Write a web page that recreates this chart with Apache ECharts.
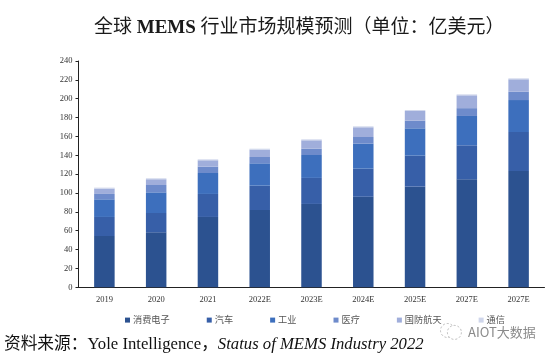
<!DOCTYPE html>
<html>
<head>
<meta charset="utf-8">
<style>
  html, body { margin: 0; padding: 0; background: #fff; }
  #chart { width: 554px; height: 355px; }
</style>
<script src="https://cdn.jsdelivr.net/npm/echarts@6/dist/echarts.min.js"></script>
</head>
<body>
<div id="chart"></div>
<script>
// 年份（原图最后两项都写作 2027E）
const years = ['2019', '2020', '2021', '2022E', '2023E', '2024E', '2025E', '2027E', '2027E'];

// 各分项，单位：亿美元
const consumer = [54.4, 58.3, 74.6, 82, 88.4, 96, 106.7, 114.5, 123.3];
const auto = [20.2, 20.5, 24.4, 25.8, 27.6, 29.8, 32.9, 36.1, 41.4];
const industrial = [18.7, 21.9, 22.2, 23.7, 24.3, 26.5, 29, 31.1, 33.9];
const medical = [5.7, 7.8, 6.7, 6.7, 6.7, 7.1, 8.1, 8.3, 8.8];
const defense = [5.7, 6.1, 6.8, 7.8, 8.9, 10.3, 10.3, 13.6, 13.2];
const telecom = [1, 1, 1, 1, 1, 1, 1, 1, 1];

const legendNames = ['消费电子', '汽车', '工业', '医疗', '国防航天', '通信'];
const seriesValues = [consumer, auto, industrial, medical, defense, telecom];
const colors = ['#2c5290', '#375fa8', '#3d6fbd', '#6e8bcb', '#a0aedb', '#cfd6eb'];

const yTicks = { min: 0, max: 240, interval: 20 };

const serif = '"Liberation Serif", "Noto Sans CJK SC", serif';
const cjk = '"Liberation Serif", "Noto Sans CJK SC", sans-serif';

const chart = echarts.init(document.getElementById('chart'), null, { renderer: 'canvas' });

chart.setOption({
  animation: false,
  backgroundColor: '#fff',
  color: colors,
  title: [
    {
      text: '全球 {b|MEMS} 行业市场规模预测（单位：亿美元）',
      left: 94,
      top: 19,
      padding: 0,
      textStyle: {
        fontFamily: cjk,
        fontSize: 19,
        fontWeight: 'normal',
        color: '#1a1a1a',
        rich: {
          b: { fontFamily: serif, fontSize: 19, fontWeight: 'bold', color: '#1a1a1a' }
        }
      }
    },
    {
      text: '资料来源：Yole Intelligence，{i|Status of MEMS Industry 2022}',
      left: 4,
      top: 336,
      padding: 0,
      textStyle: {
        fontFamily: cjk,
        fontSize: 16.7,
        fontWeight: 'normal',
        color: '#111',
        rich: {
          i: { fontFamily: serif, fontSize: 16.7, fontStyle: 'italic', color: '#111' }
        }
      }
    },
    {
      text: 'AIOT大数据',
      left: 468,
      top: 326,
      padding: 0,
      textStyle: {
        fontFamily: '"Noto Sans CJK SC", sans-serif',
        fontSize: 13,
        fontWeight: 'normal',
        color: '#8a8a8a'
      }
    }
  ],
  legend: {
    data: legendNames,
    left: 125,
    top: 315.5,
    icon: 'rect',
    itemWidth: 5,
    itemHeight: 5,
    itemGap: 37,
    padding: 0,
    textStyle: {
      fontFamily: cjk,
      fontSize: 9.2,
      color: '#555',
      padding: [0, 0, 0, -2]
    }
  },
  grid: { left: 78.5, right: 9.5, top: 61, bottom: 67.7 },
  xAxis: {
    type: 'category',
    data: years,
    axisLine: { lineStyle: { color: '#222', width: 1 } },
    axisTick: { show: false },
    axisLabel: { fontFamily: serif, fontSize: 8.5, color: '#333', margin: 8 }
  },
  yAxis: {
    type: 'value',
    min: yTicks.min,
    max: yTicks.max,
    interval: yTicks.interval,
    axisLine: { show: true, lineStyle: { color: '#222', width: 1 } },
    axisTick: { show: true, length: 3, lineStyle: { color: '#222' } },
    axisLabel: { fontFamily: serif, fontSize: 8.5, color: '#333', margin: 6 },
    splitLine: { show: false }
  },
  series: legendNames.map((name, i) => ({
    name,
    type: 'bar',
    stack: 'total',
    barWidth: 20.5,
    data: seriesValues[i]
  })),
  // 水印图标
  graphic: [
    { type: 'circle', left: 438, top: 321, shape: { r: 7 }, style: { fill: 'none', stroke: '#aaa', lineWidth: 0.8, lineDash: [2, 2] } },
    { type: 'circle', left: 447, top: 325, shape: { r: 7 }, style: { fill: '#fff', stroke: '#aaa', lineWidth: 0.8, lineDash: [2, 2] } }
  ]
});
</script>
</body>
</html>
